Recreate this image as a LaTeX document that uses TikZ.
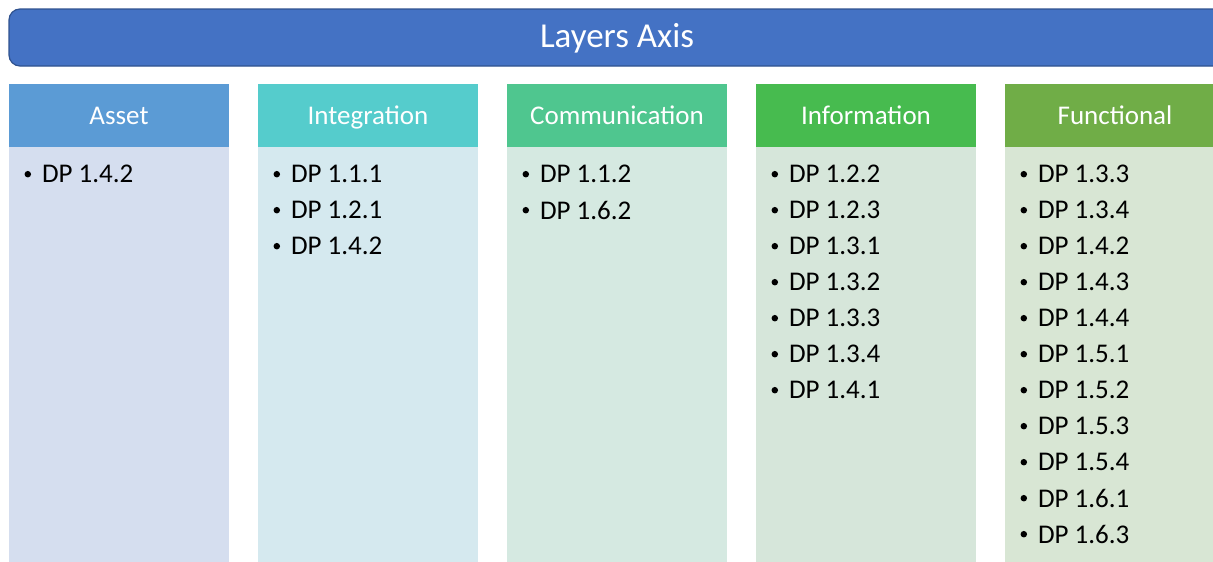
\documentclass[tikz,border=0pt]{standalone}
\usepackage{fontspec}
\setmainfont{Carlito}
\definecolor{bannerfill}{HTML}{4472C4}
\definecolor{bannerline}{HTML}{2F528F}
\definecolor{hdA}{HTML}{5B9BD5}\definecolor{bdA}{HTML}{D5DEEF}
\definecolor{hdB}{HTML}{55CCCC}\definecolor{bdB}{HTML}{D5E9EF}
\definecolor{hdC}{HTML}{4FC68F}\definecolor{bdC}{HTML}{D5E9E1}
\definecolor{hdD}{HTML}{47BB4F}\definecolor{bdD}{HTML}{D6E6DA}
\definecolor{hdE}{HTML}{70AD47}\definecolor{bdE}{HTML}{D8E6D4}
\tikzset{
  banner/.style={draw=bannerline, line width=1.2pt, fill=bannerfill, rounded corners=11pt,
    minimum width=1216pt, minimum height=57pt, inner sep=0pt,
    text height=24pt, text depth=4pt,
    text=white, font=\fontsize{35}{40}\selectfont},
  header/.style={minimum width=220pt, minimum height=63pt, inner sep=0pt,
    text height=20pt, text depth=3pt,
    text=white, font=\fontsize{27}{32}\selectfont},
  body/.style={minimum width=220pt, minimum height=440pt, inner sep=0pt, anchor=north},
  item/.style={anchor=west, inner sep=0pt, font=\fontsize{27}{32}\selectfont},
  dot/.style={circle, fill=black, inner sep=0pt, minimum size=6.5pt}
}
\begin{document}
\begin{tikzpicture}[x=1pt,y=-1pt]
\useasboundingbox (0,0) rectangle (1213,562);
\clip (0,0) rectangle (1213,562);
\node[banner] (axis) at (617,37.5) {Layers Axis};
\foreach \k/\name/\hd/\bd/\items in {
  0/Asset/hdA/bdA/{1.4.2},
  1/Integration/hdB/bdB/{1.1.1,1.2.1,1.4.2},
  2/Communication/hdC/bdC/{1.1.2,1.6.2},
  3/Information/hdD/bdD/{1.2.2,1.2.3,1.3.1,1.3.2,1.3.3,1.3.4,1.4.1},
  4/Functional/hdE/bdE/{1.3.3,1.3.4,1.4.2,1.4.3,1.4.4,1.5.1,1.5.2,1.5.3,1.5.4,1.6.1,1.6.3}}{
  \pgfmathsetmacro{\cx}{119+249*\k}
  \node[header, fill=\hd] (h\k) at (\cx,115.5) {\name};
  \node[body, fill=\bd] (b\k) at (h\k.south) {};
  \foreach \t [count=\i] in \items {
    \node[dot] (d\k-\i) at ([xshift=19pt, yshift=-27pt-36pt*(\i-1)]b\k.north west) {};
    \node[item] (t\k-\i) at ([xshift=33pt, yshift=-27pt-36pt*(\i-1)]b\k.north west) {DP \t};
  }
}
\end{tikzpicture}
\end{document}
